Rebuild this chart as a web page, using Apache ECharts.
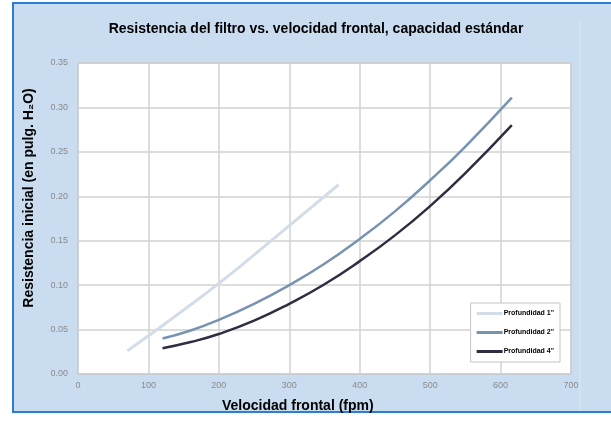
<!DOCTYPE html>
<html>
<head>
<meta charset="utf-8">
<script src="https://cdn.jsdelivr.net/npm/echarts@6/dist/echarts.min.js"></script>
<style>
html,body{margin:0;padding:0;width:611px;height:421px;background:#ffffff;overflow:hidden;}
#frame{position:absolute;left:12px;top:2px;width:599px;height:411px;background:#c9dcf0;border-top:2px solid #2a7fd0;border-left:2px solid #2a7fd0;border-bottom:2px solid #2a7fd0;box-sizing:border-box;}
#chart{position:absolute;left:0;top:0;width:611px;height:421px;}
</style>
</head>
<body>
<div id="frame"></div>
<div id="chart"></div>
<script>
// Data
var seriesNames = ['Profundidad 1"', 'Profundidad 2"', 'Profundidad 4"'];
var vel1 = [70, 100, 150, 200, 250, 300, 370];
var res1 = [0.026, 0.043, 0.072, 0.102, 0.134, 0.167, 0.213];
var vel2 = [120, 160, 200, 250, 300, 350, 400, 450, 500, 550, 616];
var res2 = [0.040, 0.049, 0.061, 0.079, 0.100, 0.124, 0.152, 0.183, 0.218, 0.256, 0.311];
var vel4 = [120, 160, 200, 250, 300, 350, 400, 450, 500, 550, 616];
var res4 = [0.029, 0.036, 0.045, 0.060, 0.079, 0.101, 0.127, 0.156, 0.189, 0.226, 0.280];

function pairs(xs, ys) { return xs.map(function (x, i) { return [x, ys[i]]; }); }

var chart = echarts.init(document.getElementById('chart'), null, {renderer: 'canvas'});
var tickFont = {color: '#8a8a8a', fontSize: 9, fontFamily: 'Liberation Sans'};
var nameFont = {fontFamily: 'Liberation Sans', fontWeight: 'bold', fontSize: 14, fill: '#000'};
chart.setOption({
  backgroundColor: 'transparent',
  animation: false,
  title: {
    text: 'Resistencia del filtro vs. velocidad frontal, capacidad estándar',
    left: 311, top: 17, textAlign: 'center',
    textStyle: {fontFamily: 'Liberation Sans', fontWeight: 'bold', fontSize: 14, color: '#000'}
  },
  grid: {left: 78, right: 40, top: 63, bottom: 47, show: true, backgroundColor: '#ffffff', borderColor: '#a0a0a0', borderWidth: 1},
  legend: {
    orient: 'vertical', right: 51, top: 303,
    backgroundColor: '#ffffff', borderColor: '#c4c4c4', borderWidth: 1,
    padding: [7, 6, 7, 6], itemGap: 12, itemWidth: 26, itemHeight: 3,
    icon: 'rect',
    textStyle: {fontFamily: 'Liberation Sans', fontWeight: 'bold', fontSize: 7, color: '#000', padding: [0, 0, 0, -4]},
    data: seriesNames
  },
  graphic: [
    {type: 'text', left: 222, top: 399, style: Object.assign({text: 'Velocidad frontal (fpm)'}, nameFont)},
    {type: 'text', x: 29, y: 198, rotation: Math.PI / 2,
     style: Object.assign({text: 'Resistencia inicial (en pulg. H₂O)', align: 'center', verticalAlign: 'middle'}, nameFont)},
    {type: 'line', shape: {x1: 580, y1: 20, x2: 580, y2: 411}, style: {stroke: '#d3e6f3', lineWidth: 1.5}}
  ],
  xAxis: {
    type: 'value', min: 0, max: 700, interval: 100,
    axisLine: {show: false}, axisTick: {show: false},
    axisLabel: Object.assign({margin: 7}, tickFont),
    splitLine: {show: true, lineStyle: {color: '#d2d2d2', width: 1.5}}
  },
  yAxis: {
    type: 'value', min: 0, max: 0.35, interval: 0.05,
    axisLine: {show: false}, axisTick: {show: false},
    axisLabel: Object.assign({margin: 10, formatter: function (v) { return v.toFixed(2); }}, tickFont),
    splitLine: {show: true, lineStyle: {color: '#d2d2d2', width: 1.5}}
  },
  series: [
    {name: seriesNames[0], type: 'line', smooth: true, showSymbol: false, data: pairs(vel1, res1),
     itemStyle: {color: '#d3dde8'}, lineStyle: {color: '#d3dde8', width: 3}},
    {name: seriesNames[1], type: 'line', smooth: true, showSymbol: false, data: pairs(vel2, res2),
     itemStyle: {color: '#7893b2'}, lineStyle: {color: '#7893b2', width: 2.5}},
    {name: seriesNames[2], type: 'line', smooth: true, showSymbol: false, data: pairs(vel4, res4),
     itemStyle: {color: '#2e2e42'}, lineStyle: {color: '#2e2e42', width: 2.5}}
  ]
});
</script>
</body>
</html>
